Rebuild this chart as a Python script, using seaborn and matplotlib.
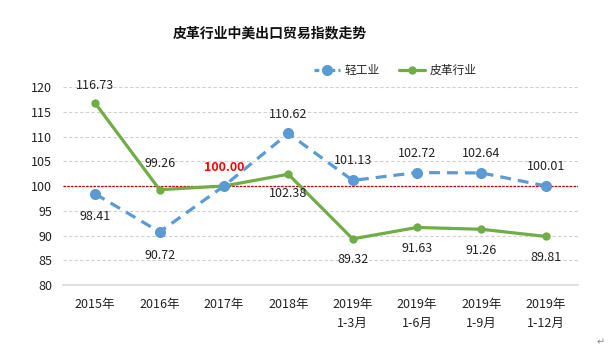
import matplotlib
matplotlib.use("Agg")
import matplotlib.pyplot as plt
import seaborn as sns
import pandas as pd
from matplotlib.lines import Line2D

categories = ["2015年", "2016年", "2017年", "2018年", "2019年\n1-3月", "2019年\n1-6月", "2019年\n1-9月", "2019年\n1-12月"]
light_industry = [98.41, 90.72, 100.00, 110.62, 101.13, 102.72, 102.64, 100.01]
leather = [116.73, 99.26, 100.00, 102.38, 89.32, 91.63, 91.26, 89.81]
series_names = ["轻工业", "皮革行业"]
yticks = [80, 85, 90, 95, 100, 105, 110, 115, 120]

sns.set_theme(style="white")
plt.rcParams['font.family'] = ['Noto Sans CJK SC', 'DejaVu Sans']

df = pd.DataFrame({
    "x": list(range(len(categories))) * 2,
    "value": light_industry + leather,
    "series": [series_names[0]] * len(categories) + [series_names[1]] * len(categories),
})

fig = plt.figure(figsize=(6.1, 3.53), dpi=100)
ax = fig.add_axes([0.1033, 0.1926, 0.8442, 0.5609])

blue = "#5B9BD5"
green = "#70AD47"
fs = 9

sns.lineplot(data=df[df.series == series_names[0]], x="x", y="value", ax=ax,
             color=blue, lw=2.3, marker="o", markersize=8, markeredgewidth=0,
             dashes=False, legend=False, zorder=4)
ax.lines[-1].set_dashes([3.4, 2.2])
sns.lineplot(data=df[df.series == series_names[1]], x="x", y="value", ax=ax,
             color=green, lw=2.3, marker="o", markersize=6, markeredgewidth=0,
             legend=False, zorder=3)

ax.set_xlim(-0.5, len(categories) - 0.5)
ax.set_ylim(80, 120)
ax.set_yticks(yticks)
ax.set_xticks(range(len(categories)))
ax.set_xticklabels(categories, fontsize=fs, linespacing=1.6, color="#222222")
ax.set_yticklabels([str(t) for t in yticks], fontsize=fs, color="#222222")
ax.set_xlabel("")
ax.set_ylabel("")
ax.tick_params(axis="y", length=0, pad=8)
ax.tick_params(axis="x", length=0, pad=9)

for t in yticks[1:]:
    ax.axhline(t, color="#d0d0d0", lw=0.8, ls=(0, (3, 2)), zorder=1)
ax.axhline(100, color="#C00000", lw=0.9, ls=(0, (2, 1)), zorder=2)

for s in ["top", "right", "left"]:
    ax.spines[s].set_visible(False)
ax.spines["bottom"].set_color("#d9d9d9")
ax.spines["bottom"].set_linewidth(1.2)

# light industry labels
li_off = [-16, -17, 0, 14, 14, 14, 14, 14]
for i, v in enumerate(light_industry):
    if i == 2:
        continue
    ax.annotate(f"{v:.2f}", (i, v), xytext=(0, li_off[i]), textcoords="offset points",
                ha="center", va="center", fontsize=fs, color="#222222")
le_off = [13, 19, 0, -14, -15, -15, -15, -15]
for i, v in enumerate(leather):
    if i == 2:
        continue
    ax.annotate(f"{v:.2f}", (i, v), xytext=(0, le_off[i]), textcoords="offset points",
                ha="center", va="center", fontsize=fs, color="#222222")
ax.annotate(f"{light_industry[2]:.2f}", (2, light_industry[2]), xytext=(0, 13),
            textcoords="offset points", ha="center", va="center", fontsize=fs,
            color="#FF0000", fontweight="bold")

fig.text(0.443, 0.905, "皮革行业中美出口贸易指数走势", ha="center", va="center",
         fontsize=10, fontweight="bold", color="#111111")

handles = [Line2D([], [], color=blue, lw=2.3, ls=(0, (1.5, 1)), marker="o", markersize=8, markeredgewidth=0),
           Line2D([], [], color=green, lw=2.3, marker="o", markersize=6, markeredgewidth=0)]
fig.legend(handles, series_names, loc="center", bbox_to_anchor=(0.648, 0.80), ncol=2,
           frameon=False, fontsize=8.5, handlelength=2.2, columnspacing=1.6, handletextpad=0.4)

fig.text(0.985, 0.03, "↵", ha="center", va="center", fontsize=7, color="#888888",
         family=["DejaVu Sans"])

fig.savefig("out.png", dpi=100)
